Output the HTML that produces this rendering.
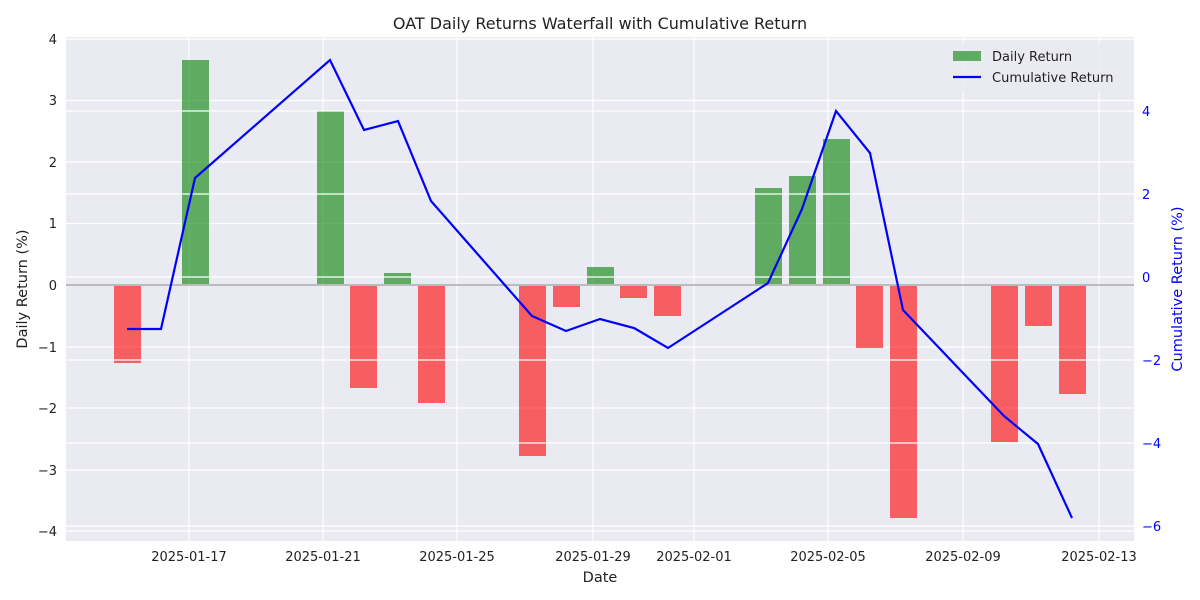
<!DOCTYPE html>
<html><head><meta charset="utf-8"><style>body{margin:0;background:#fff}svg{display:block;font-family:"DejaVu Sans","Liberation Sans",sans-serif}</style></head>
<body>
<svg width="1200" height="600" xmlns="http://www.w3.org/2000/svg">
<rect x="66" y="37" width="1068" height="504" fill="#eaeaf2"/>
<g stroke="#fff" stroke-width="1.2">
<line x1="66" x2="1134" y1="39" y2="39"/><line x1="66" x2="1134" y1="100.5" y2="100.5"/><line x1="66" x2="1134" y1="162" y2="162"/><line x1="66" x2="1134" y1="223.5" y2="223.5"/><line x1="66" x2="1134" y1="347" y2="347"/><line x1="66" x2="1134" y1="408" y2="408"/><line x1="66" x2="1134" y1="470" y2="470"/><line x1="66" x2="1134" y1="531" y2="531"/>
<line x1="189" x2="189" y1="37" y2="541"/><line x1="323" x2="323" y1="37" y2="541"/><line x1="457" x2="457" y1="37" y2="541"/><line x1="593" x2="593" y1="37" y2="541"/><line x1="694" x2="694" y1="37" y2="541"/><line x1="828" x2="828" y1="37" y2="541"/><line x1="963" x2="963" y1="37" y2="541"/><line x1="1099" x2="1099" y1="37" y2="541"/>
</g>
<g fill-opacity="0.6">
<rect x="114" y="285" width="27" height="78" fill="#ff0000"/>
<rect x="182" y="60" width="27" height="225" fill="#008000"/>
<rect x="317" y="111" width="27" height="174" fill="#008000"/>
<rect x="350" y="285" width="27" height="103" fill="#ff0000"/>
<rect x="384" y="273" width="27" height="12" fill="#008000"/>
<rect x="418" y="285" width="27" height="118" fill="#ff0000"/>
<rect x="519" y="285" width="27" height="171" fill="#ff0000"/>
<rect x="553" y="285" width="27" height="22" fill="#ff0000"/>
<rect x="587" y="267" width="27" height="18" fill="#008000"/>
<rect x="620" y="285" width="27" height="13" fill="#ff0000"/>
<rect x="654" y="285" width="27" height="31" fill="#ff0000"/>
<rect x="755" y="188" width="27" height="97" fill="#008000"/>
<rect x="789" y="176" width="27" height="109" fill="#008000"/>
<rect x="823" y="139" width="27" height="146" fill="#008000"/>
<rect x="856" y="285" width="27" height="63" fill="#ff0000"/>
<rect x="890" y="285" width="27" height="233" fill="#ff0000"/>
<rect x="991" y="285" width="27" height="157" fill="#ff0000"/>
<rect x="1025" y="285" width="27" height="41" fill="#ff0000"/>
<rect x="1059" y="285" width="27" height="109" fill="#ff0000"/>
</g>
<line x1="66" x2="1134" y1="285" y2="285" stroke="#bbbbbb" stroke-width="2"/>
<g stroke="#fff" stroke-width="1.2">
<line x1="66" x2="1134" y1="111" y2="111"/><line x1="66" x2="1134" y1="194" y2="194"/><line x1="66" x2="1134" y1="277" y2="277"/><line x1="66" x2="1134" y1="360" y2="360"/><line x1="66" x2="1134" y1="443" y2="443"/><line x1="66" x2="1134" y1="526" y2="526"/>
</g>
<polyline fill="none" stroke="#0000ff" stroke-width="2.2" points="127,329 161,329 195,178 330,60 364,130 398,121 431,201 532,316 566,331 600,319 634,328 668,348 768,283 802,209 836,111 870,153 903,310 1004,416 1038,444 1072,518"/>
<g font-size="13" fill="#222" text-anchor="end">
<text x="57" y="44">4</text><text x="57" y="105">3</text><text x="57" y="167">2</text><text x="57" y="228">1</text><text x="57" y="290">0</text><text x="57" y="352">−1</text><text x="57" y="413">−2</text><text x="57" y="475">−3</text><text x="57" y="536">−4</text>
</g>
<g font-size="13" fill="#0000ff">
<text x="1142" y="116">4</text><text x="1142" y="199">2</text><text x="1142" y="282">0</text><text x="1142" y="365">−2</text><text x="1142" y="448">−4</text><text x="1142" y="531">−6</text>
</g>
<g font-size="13" fill="#222" text-anchor="middle">
<text x="189" y="561">2025-01-17</text><text x="323" y="561">2025-01-21</text><text x="457" y="561">2025-01-25</text><text x="593" y="561">2025-01-29</text><text x="694" y="561">2025-02-01</text><text x="828" y="561">2025-02-05</text><text x="963" y="561">2025-02-09</text><text x="1099" y="561">2025-02-13</text>
<text x="600" y="582" font-size="14.5">Date</text>
<text x="600" y="29" font-size="16">OAT Daily Returns Waterfall with Cumulative Return</text>
</g>
<text transform="translate(27,289) rotate(-90)" font-size="14.5" fill="#222" text-anchor="middle">Daily Return (%)</text>
<text transform="translate(1182,289) rotate(-90)" font-size="14.5" fill="#0000ff" text-anchor="middle">Cumulative Return (%)</text>
<rect x="944" y="42" width="186" height="50" rx="3" fill="#eaeaf2" fill-opacity="0.8"/>
<rect x="953" y="51" width="28" height="10" fill="#008000" fill-opacity="0.6"/>
<text x="992" y="61" font-size="13" fill="#222">Daily Return</text>
<line x1="953" x2="981" y1="77" y2="77" stroke="#0000ff" stroke-width="2.2"/>
<text x="992" y="82" font-size="13" fill="#222">Cumulative Return</text>
</svg>
</body></html>
